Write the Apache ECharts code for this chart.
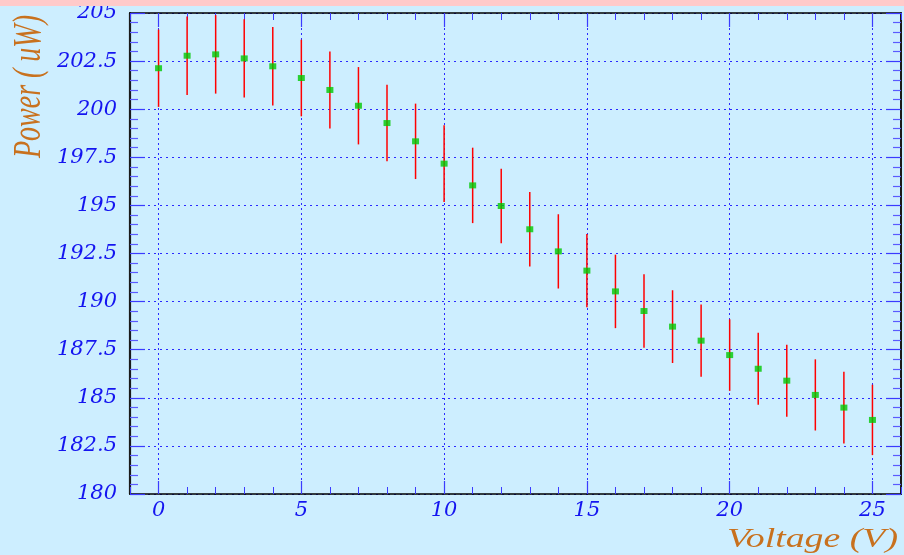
<!DOCTYPE html>
<html>
<head>
<meta charset="utf-8">
<script src="https://cdn.jsdelivr.net/npm/echarts@6/dist/echarts.min.js"></script>
<style>
  html, body { margin: 0; padding: 0; background: #cdeeff; }
  #chart { width: 904px; height: 555px; }
</style>
</head>
<body>
<div id="chart"></div>
<script>
// Measured power vs. applied voltage, with symmetric uncertainties
const voltage = [0, 1, 2, 3, 4, 5, 6, 7, 8, 9, 10, 11, 12, 13, 14, 15, 16, 17, 18, 19, 20, 21, 22, 23, 24, 25];
const power = [202.13, 202.78, 202.85, 202.64, 202.23, 201.62, 201.00, 200.18, 199.28, 198.33,
               197.17, 196.04, 194.97, 193.76, 192.61, 191.61, 190.53, 189.51, 188.70, 187.97,
               187.22, 186.51, 185.89, 185.15, 184.49, 183.85];
const powerErr = [2.01, 2.04, 2.04, 2.03, 2.04, 1.99, 2.00, 2.01, 1.99, 1.96,
                  1.99, 1.96, 1.94, 1.93, 1.93, 1.91, 1.91, 1.91, 1.89, 1.88,
                  1.86, 1.87, 1.87, 1.85, 1.86, 1.83];
const xMajorTicks = [0, 5, 10, 15, 20, 25];
const xRange = [-1, 26];
const yRange = [180, 205];
const yStep = 2.5;
const xTitle = 'Voltage (V)';
const yTitle = 'Power ( uW)';

const chart = echarts.init(document.getElementById('chart'), null, { renderer: 'canvas' });

const tickBlue = '#3b3bff';
const gridBlue = '#2a2aff';
const labelBlue = '#1414f0';
const titleColor = '#c8711e';
const labelFont = { fontFamily: 'DejaVu Serif', fontStyle: 'italic', fontSize: 21, color: labelBlue };

const points = voltage.map((v, i) => [v, power[i]]);
const bars = voltage.map((v, i) => [v, power[i] - powerErr[i], power[i] + powerErr[i]]);

const option = {
  backgroundColor: '#cdeeff',
  animation: false,
  grid: { left: 130, right: 3, top: 13, bottom: 61, containLabel: false },
  xAxis: [
    { // bottom: major ticks, labels, vertical grid
      type: 'value', position: 'bottom', min: xRange[0], max: xRange[1],
      axisLine: { show: true, onZero: false, lineStyle: { color: '#000', width: 1.5 } },
      axisTick: { show: true, inside: true, length: 13, customValues: xMajorTicks, lineStyle: { color: tickBlue, width: 1.2 } },
      axisLabel: { show: true, customValues: xMajorTicks, margin: 6, ...labelFont },
      splitLine: { show: true, lineStyle: { color: gridBlue, width: 1, type: [2, 3] } }
    },
    { // bottom: minor ticks
      type: 'value', position: 'bottom', min: xRange[0], max: xRange[1], interval: 1,
      axisLine: { show: false, onZero: false },
      axisTick: { show: true, inside: true, length: 7, lineStyle: { color: tickBlue, width: 1 } },
      axisLabel: { show: false }, splitLine: { show: false }
    },
    { // top: frame edge and major ticks
      type: 'value', position: 'top', min: xRange[0], max: xRange[1],
      axisLine: { show: true, onZero: false, lineStyle: { color: '#000', width: 1.5 } },
      axisTick: { show: true, inside: true, length: 14, customValues: xMajorTicks, lineStyle: { color: tickBlue, width: 1.2 } },
      axisLabel: { show: false }, splitLine: { show: false }
    },
    { // top: minor ticks
      type: 'value', position: 'top', min: xRange[0], max: xRange[1], interval: 1,
      axisLine: { show: false, onZero: false },
      axisTick: { show: true, inside: true, length: 7, lineStyle: { color: tickBlue, width: 1 } },
      axisLabel: { show: false }, splitLine: { show: false }
    }
  ],
  yAxis: [
    {
      type: 'value', position: 'left', min: yRange[0], max: yRange[1], interval: yStep,
      axisLine: { show: true, onZero: false, lineStyle: { color: '#1a1a1a', width: 2.2 } },
      axisTick: { show: true, inside: true, length: 15, lineStyle: { color: tickBlue, width: 1.2 } },
      minorTick: { show: true, splitNumber: 5, length: 8, lineStyle: { color: '#5a5aff', width: 1.2 } },
      axisLabel: { show: true, margin: 13, ...labelFont },
      splitLine: { show: true, lineStyle: { color: gridBlue, width: 1, type: [2, 4] } }
    },
    {
      type: 'value', position: 'right', min: yRange[0], max: yRange[1], interval: yStep,
      axisLine: { show: true, onZero: false, lineStyle: { color: '#1a1a1a', width: 2 } },
      axisTick: { show: true, inside: true, length: 15, lineStyle: { color: tickBlue, width: 1.2 } },
      minorTick: { show: true, splitNumber: 5, length: 8, lineStyle: { color: '#5a5aff', width: 1.2 } },
      axisLabel: { show: false }, splitLine: { show: false }
    }
  ],
  series: [
    {
      type: 'custom', xAxisIndex: 0, yAxisIndex: 0, z: 3,
      data: bars,
      encode: { x: 0, y: [1, 2] },
      renderItem: function (params, api) {
        const x = api.value(0);
        const top = api.coord([x, api.value(2)]);
        const bottom = api.coord([x, api.value(1)]);
        return {
          type: 'line',
          shape: { x1: top[0], y1: top[1], x2: bottom[0], y2: bottom[1] },
          style: { stroke: '#ff0000', lineWidth: 1.5 }
        };
      }
    },
    {
      type: 'scatter', xAxisIndex: 0, yAxisIndex: 0, z: 4,
      data: points,
      symbol: 'rect', symbolSize: [7, 6],
      itemStyle: { color: '#00c800' }
    }
  ],
  graphic: [
    { type: 'rect', left: 0, top: 0, z: 10, shape: { x: 0, y: 0, width: 904, height: 6 }, style: { fill: '#ffcaca' } },
    {
      type: 'text', x: 29, y: 15, rotation: Math.PI / 2, scaleY: 1.44, z: 10,
      style: { text: yTitle, fill: titleColor, fontFamily: 'Liberation Serif', fontStyle: 'italic', fontSize: 28, align: 'right', verticalAlign: 'middle' }
    },
    {
      type: 'text', x: 898, y: 540, scaleX: 1.4, z: 10,
      style: { text: xTitle, fill: titleColor, fontFamily: 'Liberation Serif', fontStyle: 'italic', fontSize: 27, align: 'right', verticalAlign: 'middle' }
    }
  ]
};

chart.setOption(option);
</script>
</body>
</html>
